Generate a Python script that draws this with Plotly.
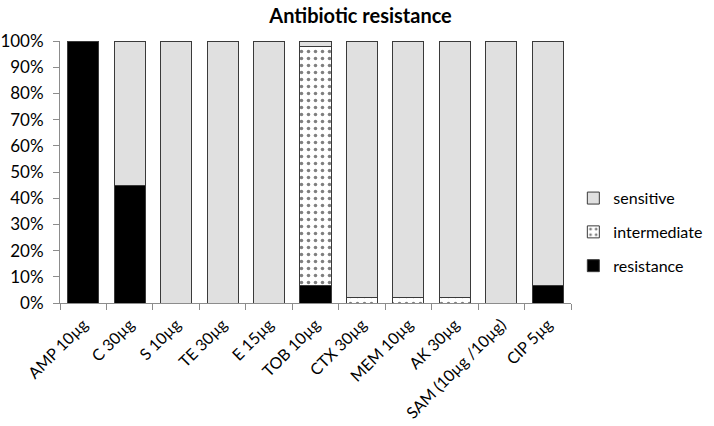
import plotly.graph_objects as go

# antibiotic discs
antibiotics = ["AMP 10µg", "C 30µg", "S 10µg", "TE 30µg", "E 15µg", "TOB 10µg",
               "CTX 30µg", "MEM 10µg", "AK 30µg", "SAM (10µg /10µg)", "CIP 5µg"]

# percentages per category
resistance = [100, 45, 0, 0, 0, 6.5, 0, 0, 0, 0, 6.5]
intermediate = [0, 0, 0, 0, 0, 91.5, 2, 2, 2, 0, 0]
sensitive = [0, 55, 100, 100, 100, 2, 98, 98, 98, 100, 93.5]

FONT = "Lato, Open Sans, sans-serif"
outline = dict(color="#3a3a3a", width=1)

fig = go.Figure()
fig.add_trace(go.Bar(
    x=antibiotics, y=resistance, name="resistance",
    legendgroup="r", legendrank=3,
    marker=dict(color="black", line=outline),
))
fig.add_trace(go.Bar(
    x=antibiotics, y=intermediate, name="intermediate",
    legendgroup="i", legendrank=2,
    marker=dict(color="white", line=outline,
                pattern=dict(shape=".", fgcolor="black", bgcolor="white",
                             size=7, solidity=0.2)),
))
fig.add_trace(go.Bar(
    x=antibiotics, y=sensitive, name="sensitive",
    legendgroup="s", legendrank=1,
    marker=dict(color="#e0e0e0", line=outline),
))

fig.update_layout(
    width=714, height=426,
    barmode="stack", bargap=0.33,
    paper_bgcolor="white", plot_bgcolor="white",
    margin=dict(l=60, r=143, t=41, b=123),
    font=dict(family=FONT, size=16, color="black"),
    title=dict(text="<b>Antibiotic resistance</b>", x=0.505, xanchor="center",
               y=0.962, yanchor="middle", font=dict(size=20)),
    # container refs so the legend does not squeeze the plot area
    legend=dict(xref="container", yref="container", x=0.803, xanchor="left",
                y=0.455, yanchor="middle",
                traceorder="grouped", tracegroupgap=10, itemwidth=30,
                font=dict(size=16)),
    showlegend=True,
)
fig.update_xaxes(
    showline=True, linecolor="#8c8c8c", linewidth=1,
    ticks="outside", tickcolor="#8c8c8c", ticklen=6, tickson="boundaries",
    tickangle=-45, tickfont=dict(size=16), ticklabelstandoff=5,
    showgrid=False, automargin=False,
)
fig.update_yaxes(
    range=[0, 100], dtick=10, ticksuffix="%",
    showline=True, linecolor="#8c8c8c", linewidth=1,
    ticks="outside", tickcolor="#8c8c8c", ticklen=6, ticklabelstandoff=6,
    showgrid=False, zeroline=False, tickfont=dict(size=17), automargin=False,
)

# page body has a default 8px margin; drop it so the figure sits at the corner
fig.write_html("out.html", config={"displayModeBar": False},
               post_script="document.body.style.margin='0';")
